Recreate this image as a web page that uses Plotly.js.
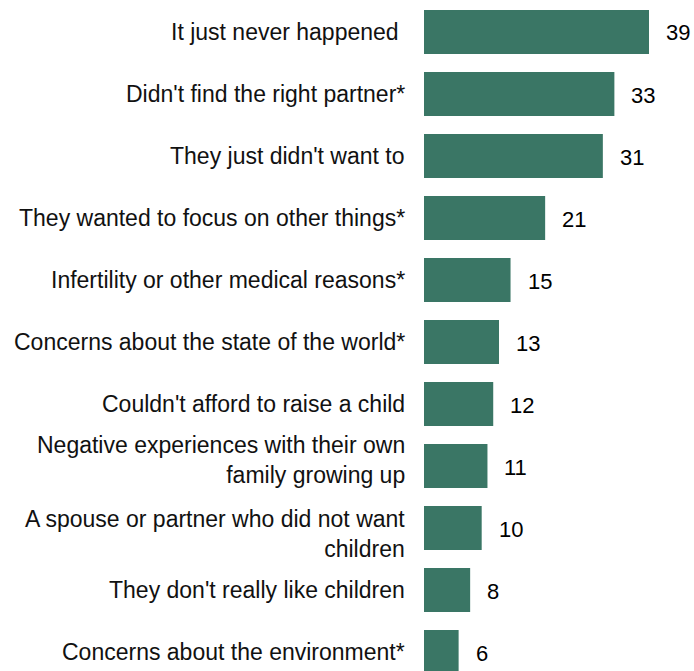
<!DOCTYPE html>
<html><head><meta charset="utf-8">
<script src="https://cdn.plot.ly/plotly-3.0.1.min.js"></script>
<style>html,body{margin:0;padding:0;background:#fff}</style>
</head><body>
<div id="chart" style="width:694px;height:671px"></div>
<script>
const categories = [
  "It just never happened\u00a0",
  "Didn't find the right partner*",
  "They just didn't want to",
  "They wanted to focus on other things*",
  "Infertility or other medical reasons*",
  "Concerns about the state of the world*",
  "Couldn't afford to raise a child",
  "Negative experiences with their own<br>family growing up",
  "A spouse or partner who did not want<br>children",
  "They don't really like children",
  "Concerns about the environment*"
];
const values = [39, 33, 31, 21, 15, 13, 12, 11, 10, 8, 6];

// small vertical nudges for the category labels (pixels)
const labelShift = {7: 6, 8: -6};

const trace = {
  type: 'bar', orientation: 'h',
  x: values, y: categories,
  marker: {color: '#3a7665', line: {width: 0}},
  width: 0.71,
  hoverinfo: 'none'
};
const valueAnn = values.map((v, i) => ({
  x: v, y: categories[i], xref: 'x', yref: 'y',
  text: String(v), showarrow: false, xanchor: 'left', xshift: 15, yshift: -1,
  font: {family: 'Liberation Sans, Arial, sans-serif', size: 22, color: '#000'}
}));
const labelAnn = categories.map((c, i) => ({
  x: 0, y: c, xref: 'paper', yref: 'y',
  text: c, showarrow: false, xanchor: 'right', align: 'right',
  xshift: -17, yshift: labelShift[i] || 0,
  font: {family: 'Liberation Sans, Arial, sans-serif', size: 23, color: '#111'}
}));
const layout = {
  width: 694, height: 671,
  margin: {l: 424, r: 0, t: 0, b: 0},
  paper_bgcolor: '#fff', plot_bgcolor: '#fff',
  showlegend: false,
  xaxis: {range: [0, 46.8], visible: false, fixedrange: true},
  yaxis: {
    type: 'category', categoryorder: 'array', categoryarray: categories,
    range: [10.306, -0.516],
    showgrid: false, zeroline: false, showline: false, ticks: '',
    showticklabels: false
  },
  annotations: labelAnn.concat(valueAnn)
};
Plotly.newPlot('chart', [trace], layout, {displayModeBar: false, staticPlot: true});
</script>
</body></html>
